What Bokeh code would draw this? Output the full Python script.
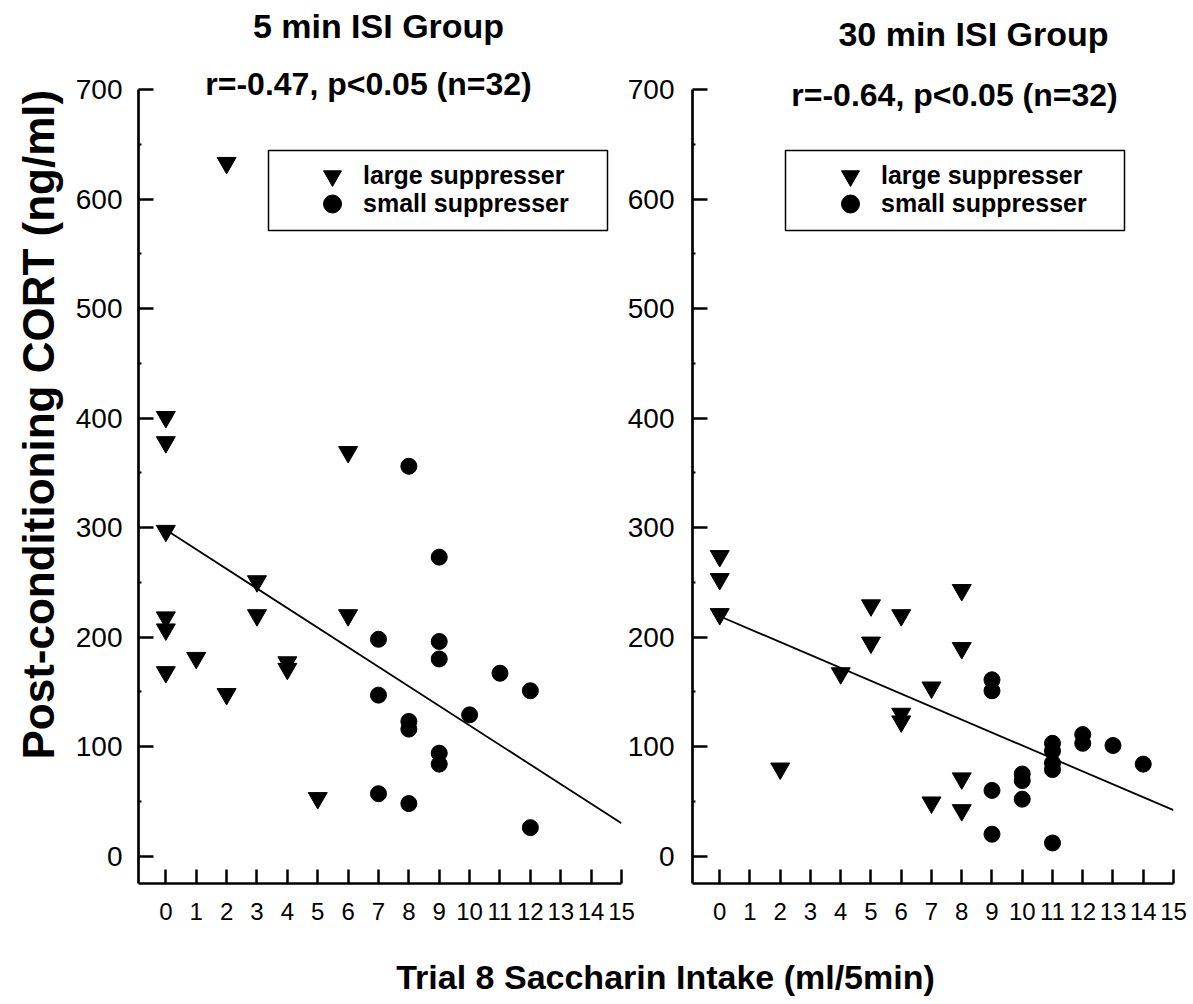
from bokeh.plotting import figure
from bokeh.models import (Range1d, FixedTicker, Label, Legend, LegendItem,
                          BoxAnnotation, Title)
from bokeh.layouts import row, column
from bokeh.embed import file_html
from bokeh.resources import INLINE

# ---------------- data ----------------
x_ticks = list(range(0, 16))
y_ticks = [0, 100, 200, 300, 400, 500, 600, 700]
y_minor = [50, 150, 250, 350, 450, 550, 650]

# 5 min ISI group
large_5_x = [0, 0, 0, 0, 0, 0, 1, 2, 2, 3, 3, 4, 4, 5, 6, 6]
large_5_y = [401, 378, 297, 218, 207, 168, 181, 148, 633, 251, 220, 177, 171, 53, 369, 220]
small_5_x = [7, 7, 7, 8, 8, 8, 8, 9, 9, 9, 9, 9, 10, 11, 12, 12]
small_5_y = [198, 147, 57, 356, 123, 116, 48, 273, 196, 180, 94, 84, 129, 167, 151, 26]
fit_5_x = [0, 15]
fit_5_y = [298, 30]

# 30 min ISI group
large_30_x = [0, 0, 0, 2, 4, 5, 5, 6, 6, 6, 7, 7, 8, 8, 8, 8]
large_30_y = [274, 253, 221, 80, 167, 229, 195, 220, 130, 123, 154, 49, 243, 190, 71, 42]
small_30_x = [9, 9, 9, 9, 10, 10, 10, 11, 11, 11, 11, 11, 12, 12, 13, 14]
small_30_y = [161, 151, 60, 20, 75, 69, 52, 103, 96, 85, 79, 12, 111, 103, 101, 84]
fit_30_x = [0, 15]
fit_30_y = [219, 42]

titles = ["5 min ISI Group", "30 min ISI Group"]
stats = ["r=-0.47, p<0.05 (n=32)", "r=-0.64, p<0.05 (n=32)"]
legend_labels = ["large suppresser", "small suppresser"]
x_label = "Trial 8 Saccharin Intake (ml/5min)"
y_label = "Post-conditioning CORT (ng/ml)"

FONT = "Liberation Sans"
FRAME_H = 883
BOTTOM = 55


def make_panel(frame_w, border_left, border_right, lx, ly, sx, sy, fx, fy,
               title, stat, title_pos, stat_pos, legend_x, box_x, label_standoff):
    p = figure(frame_width=frame_w, frame_height=FRAME_H, title=None,
               x_range=Range1d(-0.9, 15), y_range=Range1d(-25, 781.3),
               output_backend="svg", toolbar_location=None,
               min_border_left=border_left, min_border_right=border_right,
               min_border_top=0, min_border_bottom=BOTTOM)
    p.outline_line_color = None
    p.grid.visible = False
    p.background_fill_color = None
    p.border_fill_color = None

    for ax in (p.xaxis[0], p.yaxis[0]):
        ax.axis_line_width = 2.7
        ax.axis_line_color = "black"
        ax.major_tick_line_width = 2.5
        ax.major_tick_line_color = "black"
        ax.minor_tick_line_width = 2
        ax.minor_tick_line_color = "black"
        ax.major_tick_out = 0
        ax.minor_tick_out = 0
        ax.major_label_text_color = "black"
        ax.major_label_text_font = FONT

    p.xaxis.ticker = FixedTicker(ticks=x_ticks, minor_ticks=[])
    p.xaxis.major_tick_in = 14
    p.xaxis.major_label_text_font_size = "24px"
    p.xaxis.major_label_standoff = 19

    p.yaxis.ticker = FixedTicker(ticks=y_ticks, minor_ticks=y_minor)
    p.yaxis.bounds = (-25, 700)
    p.yaxis.major_tick_in = 15
    p.yaxis.minor_tick_in = 3
    p.yaxis.major_label_text_font_size = "28px"
    p.yaxis.major_label_standoff = label_standoff

    p.line(fx, fy, line_color="black", line_width=1.8)
    r_tri = p.scatter(lx, ly, marker="inverted_triangle", size=19,
                      fill_color="black", line_color="black", line_width=1)
    r_cir = p.scatter(sx, sy, marker="circle", size=16,
                      fill_color="black", line_color="black", line_width=1)

    # legend frame
    p.add_layout(BoxAnnotation(left=box_x, right=box_x + 339, bottom=653, top=733,
                               left_units="screen", right_units="screen",
                               bottom_units="screen", top_units="screen",
                               fill_color="white", fill_alpha=1,
                               line_color="black", line_alpha=1, line_width=1.5))
    for i, (lab, rend) in enumerate(zip(legend_labels, [r_tri, r_cir])):
        lg = Legend(items=[LegendItem(label=lab, renderers=[rend])],
                    location=(legend_x, 685 - 28 * i), margin=0, padding=0,
                    spacing=0, glyph_height=45, glyph_width=62, label_standoff=0,
                    border_line_color=None, background_fill_alpha=0,
                    label_text_font=FONT, label_text_font_size="25px",
                    label_text_font_style="bold", label_text_color="black")
        p.add_layout(lg)

    p.add_layout(Label(x=title_pos[0], y=title_pos[1], x_units="screen", y_units="screen",
                       text=title, text_align="center", text_baseline="alphabetic",
                       text_font=FONT, text_font_size="34px", text_font_style="bold",
                       text_color="black"))
    p.add_layout(Label(x=stat_pos[0], y=stat_pos[1], x_units="screen", y_units="screen",
                       text=stat, text_align="center", text_baseline="alphabetic",
                       text_font=FONT, text_font_size="32px", text_font_style="bold",
                       text_color="black"))
    return p


p1 = make_panel(483, 138, 15, large_5_x, large_5_y, small_5_x, small_5_y,
                fit_5_x, fit_5_y, titles[0], stats[0], (240, 858), (230, 800),
                163, 130, 16)
p1.add_layout(Title(text=y_label, align="left", offset=124, vertical_align="bottom",
                    standoff=20, text_font=FONT, text_font_size="44px",
                    text_font_style="bold", text_color="black"), "left")

p2 = make_panel(481, 66, 14, large_30_x, large_30_y, small_30_x, small_30_y,
                fit_30_x, fit_30_y, titles[1], stats[1], (281, 850), (262, 789),
                127, 93, 18)
p2.margin = (0, 0, 0, -12)

P3_H = 1000 - (FRAME_H + BOTTOM)
p3 = figure(frame_width=1185, frame_height=P3_H, title=None, x_range=Range1d(0, 1185),
            y_range=Range1d(0, P3_H), output_backend="svg", toolbar_location=None,
            x_axis_location=None, y_axis_location=None, min_border=0)
p3.outline_line_color = None
p3.grid.visible = False
p3.background_fill_color = None
p3.border_fill_color = None
p3.add_layout(Label(x=665, y=24, text=x_label, text_align="center",
                    text_baseline="alphabetic", text_font=FONT,
                    text_font_size="34px", text_font_style="bold",
                    text_color="black"))

layout = column(row(p1, p2), p3)
open("out.html", "w").write(file_html(layout, INLINE))
